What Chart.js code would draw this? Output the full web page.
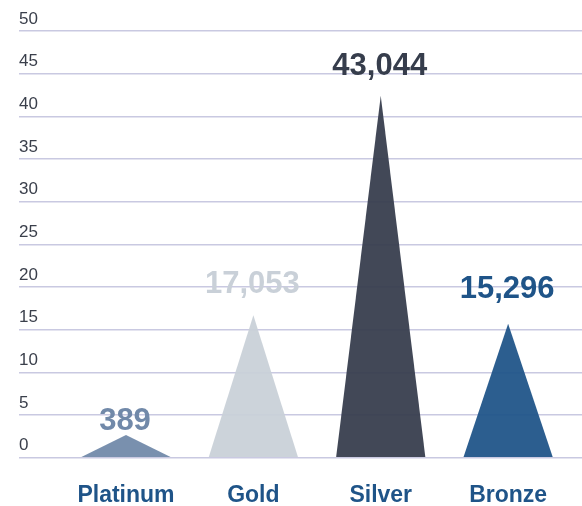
<!DOCTYPE html>
<html>
<head>
<meta charset="utf-8">
<script src="https://cdn.jsdelivr.net/npm/chart.js@4"></script>
<style>
  html, body { margin: 0; padding: 0; background: #fff; }
  #wrap { width: 582px; height: 506px; }
</style>
</head>
<body>
<div id="wrap"><canvas id="medalChart"></canvas></div>
<script>
// Medal categories and counts shown above each triangle
const categories = ['Platinum', 'Gold', 'Silver', 'Bronze'];
const medalCounts = [389, 17053, 43044, 15296];

// Triangle heights (thousands)
const triangleHeights = [2.65, 16.7, 42.4, 15.7];

// Where each count label sits (baseline, in axis units)
const labelLevels = [3.25, 19.3, 44.8, 18.7];

const medalColors = ['#7189a9', '#c9d0d8', '#363d4c', '#1f5488'];
const yTickValues = [0, 5, 10, 15, 20, 25, 30, 35, 40, 45, 50];

const FONT = "'Liberation Sans', Arial, sans-serif";

// Draw every bar as a triangle and put the count on top
const trianglePlugin = {
  id: 'triangles',
  afterDatasetsDraw(chart) {
    const ctx = chart.ctx;
    const yScale = chart.scales.y;
    const meta = chart.getDatasetMeta(0);
    meta.data.forEach((bar, i) => {
      const { x, y, base, width } = bar.getProps(['x', 'y', 'base', 'width'], true);
      ctx.save();
      ctx.globalAlpha = 0.94;
      ctx.fillStyle = medalColors[i];
      ctx.beginPath();
      ctx.moveTo(x - width / 2, base);
      ctx.lineTo(x, y);
      ctx.lineTo(x + width / 2, base);
      ctx.closePath();
      ctx.fill();
      ctx.restore();

      ctx.save();
      ctx.fillStyle = medalColors[i];
      ctx.font = `bold 31px ${FONT}`;
      ctx.textAlign = 'center';
      ctx.textBaseline = 'alphabetic';
      ctx.fillText(medalCounts[i].toLocaleString('en-US'), x - 1, yScale.getPixelForValue(labelLevels[i]));
      ctx.restore();
    });
  }
};

const ctx = document.getElementById('medalChart').getContext('2d');
new Chart(ctx, {
  type: 'bar',
  data: {
    datasets: [{
      data: categories.map((c, i) => ({ x: i, y: triangleHeights[i] })),
      backgroundColor: 'rgba(0,0,0,0)',
      borderWidth: 0,
      categoryPercentage: 0.8,
      barPercentage: 0.875
    }]
  },
  options: {
    responsive: true,
    maintainAspectRatio: false,
    animation: false,
    layout: {
      padding: { left: 19, right: 0, top: 31, bottom: 0 }
    },
    plugins: {
      legend: { display: false },
      tooltip: { enabled: false }
    },
    scales: {
      x: {
        type: 'linear',
        offset: false,
        min: -0.84,
        max: 3.58,
        afterBuildTicks: (axis) => {
          axis.ticks = categories.map((c, i) => ({ value: i }));
        },
        afterFit: (axis) => {
          axis.height = 48.3;
        },
        grid: { display: false, drawTicks: false },
        border: { display: false },
        ticks: {
          autoSkip: false,
          maxRotation: 0,
          padding: 26,
          color: '#1f5488',
          font: { family: FONT, size: 23, weight: 'bold', lineHeight: 1 },
          callback: (value) => categories[value]
        }
      },
      y: {
        min: 0,
        max: 50,
        afterBuildTicks: (axis) => {
          axis.ticks = yTickValues.map(v => ({ value: v }));
        },
        grid: {
          color: '#c9c9e1',
          lineWidth: 1.5,
          drawTicks: false
        },
        border: { display: false },
        ticks: {
          mirror: true,
          padding: 0,
          labelOffset: -12,
          color: '#3a3f4b',
          font: { family: FONT, size: 17 }
        }
      }
    }
  },
  plugins: [trianglePlugin]
});
</script>
</body>
</html>
